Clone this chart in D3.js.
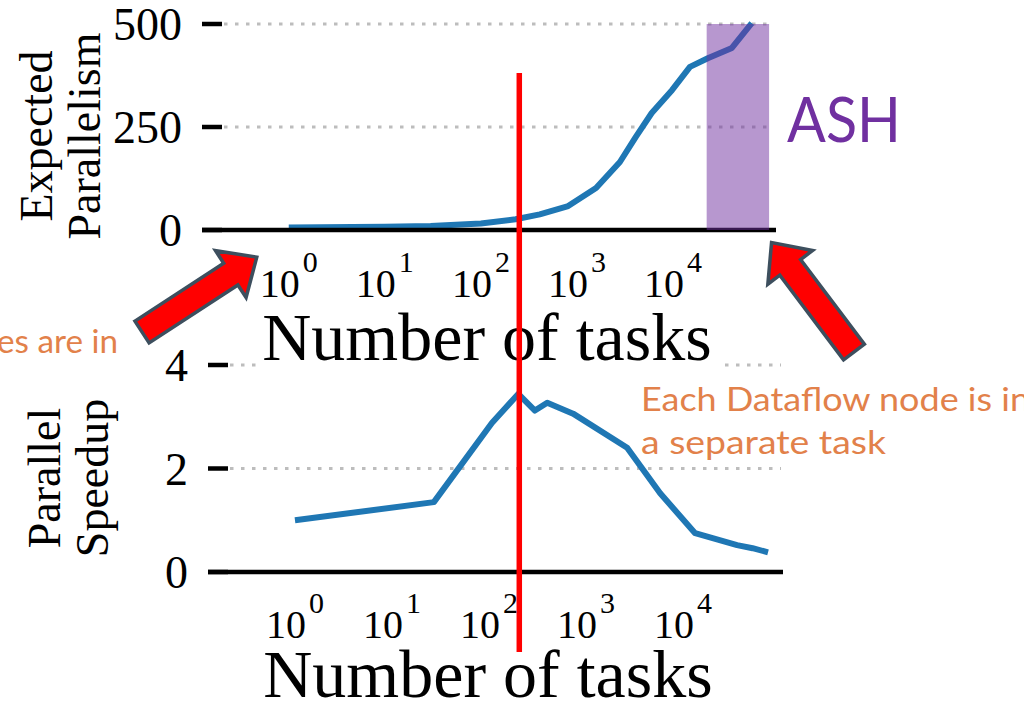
<!DOCTYPE html>
<html>
<head>
<meta charset="utf-8">
<script src="https://cdn.jsdelivr.net/npm/d3@7"></script>
<style>
  html, body { margin: 0; padding: 0; background: #fff; overflow: hidden; }
  svg { display: block; }
</style>
</head>
<body>
<svg id="chart" width="1024" height="712"></svg>
<script>
// ---- data ----
const tickExponents = [0, 1, 2, 3, 4];

// Expected parallelism vs number of tasks
const parTasks  = [1, 10, 30, 100, 230, 410, 810, 1580, 2800, 4100, 6000, 9800, 15000, 23000, 41000, 66000];
const parValues = [6, 8, 10, 16, 26, 38, 58, 102, 165, 226, 284, 340, 396, 417, 442, 502];
const parTicks  = [0, 250, 500];

// Parallel speedup vs number of tasks
const spdTasks  = [1, 27, 107, 200, 297, 398, 735, 2650, 5800, 13300, 36000, 52000, 75000];
const spdValues = [1.0, 1.35, 2.88, 3.44, 3.12, 3.27, 3.06, 2.40, 1.52, 0.75, 0.52, 0.46, 0.38];
const spdTicks  = [0, 2, 4];

// Highlighted ASH band and the chosen task-count cut
const ashRange = [22400, 100000];
const cutoffTasks = 205;

// ---- drawing ----
const svg = d3.select("#chart");
const serif = "'Liberation Serif', 'Times New Roman', serif";
const sans = "Lato, 'Noto Sans', sans-serif";
const lineBlue = "#1f77b4";

function drawPanel(root, cfg) {
  const g = root.append("g");
  const x = d3.scaleLog().domain(cfg.xDomain).range(cfg.xRange);
  const y = d3.scaleLinear().domain(cfg.yDomain).range(cfg.yRange);

  // dotted grid
  g.selectAll(".grid").data(cfg.yTicks.filter(d => d > 0)).join("line")
    .attr("x1", cfg.xRange[0]).attr("x2", cfg.xRange[1] - 2)
    .attr("y1", d => y(d)).attr("y2", d => y(d))
    .attr("stroke", "#bdbdbd").attr("stroke-width", 3)
    .attr("stroke-dasharray", "3.5,7.5");

  // data line
  const pts = cfg.xs.map((v, i) => [v, cfg.ys[i]]);
  g.append("path")
    .attr("d", d3.line().x(d => x(d[0])).y(d => y(d[1]))(pts))
    .attr("fill", "none").attr("stroke", lineBlue)
    .attr("stroke-width", 6).attr("stroke-linejoin", "round")
    .attr("stroke-linecap", "butt");

  // bottom spine
  g.append("line")
    .attr("x1", cfg.xRange[0]).attr("x2", cfg.xRange[1])
    .attr("y1", y(0)).attr("y2", y(0))
    .attr("stroke", "#000").attr("stroke-width", 4.5);

  // y ticks (inward) and labels
  g.selectAll(".ytick").data(cfg.yTicks).join("line")
    .attr("x1", cfg.xRange[0]).attr("x2", cfg.xRange[0] + 20)
    .attr("y1", d => y(d)).attr("y2", d => y(d))
    .attr("stroke", "#000").attr("stroke-width", 4.5);
  g.selectAll(".ylab").data(cfg.yTicks).join("text")
    .attr("x", cfg.xRange[0] - 20).attr("y", d => y(d) + 16)
    .attr("text-anchor", "end")
    .attr("font-family", serif).attr("font-size", 46)
    .text(d => d);

  // x tick labels 10^k
  const xl = g.selectAll(".xlab").data(tickExponents).join("text")
    .attr("x", d => x(Math.pow(10, d)))
    .attr("y", cfg.xLabelY)
    .attr("text-anchor", "middle")
    .attr("font-family", serif).attr("font-size", 40);
  xl.append("tspan").text("10");
  xl.append("tspan").attr("dy", -25).attr("dx", 3).attr("font-size", 30).text(d => d);

  // axis title
  g.append("text")
    .attr("x", cfg.titleX).attr("y", cfg.titleY)
    .attr("text-anchor", "middle")
    .attr("font-family", serif).attr("font-size", 68)
    .text("Number of tasks");

  // y axis title (two lines, rotated)
  const yt = g.append("text")
    .attr("transform", `translate(${cfg.yTitleX},${cfg.yTitleY}) rotate(-90)`)
    .attr("text-anchor", "middle")
    .attr("font-family", serif).attr("font-size", 46);
  yt.append("tspan").attr("x", 0).attr("y", 0).text(cfg.yTitle[0]);
  yt.append("tspan").attr("x", 0).attr("y", 48).text(cfg.yTitle[1]);

  return { x, y };
}

// lower panel: parallel speedup
const lowerPanel = drawPanel(svg, {
  xDomain: [0.127, 107000], xRange: [208, 783],
  yDomain: [0, 4], yRange: [572, 365],
  yTicks: spdTicks, xs: spdTasks, ys: spdValues,
  xLabelY: 638, titleX: 488, titleY: 697,
  yTitle: ["Parallel", "Speedup"], yTitleX: 60, yTitleY: 478
});

// white backing of the upper panel covers part of the lower grid
svg.append("rect").attr("x", 257).attr("y", 340).attr("width", 461).attr("height", 32)
  .attr("fill", "#fff");

// upper panel: expected parallelism
const upperPanel = drawPanel(svg, {
  xDomain: [0.125, 118000], xRange: [202, 776],
  yDomain: [0, 500], yRange: [230, 24],
  yTicks: parTicks, xs: parTasks, ys: parValues,
  xLabelY: 297, titleX: 487, titleY: 360,
  yTitle: ["Expected", "Parallelism"], yTitleX: 52, yTitleY: 136
});

// ASH band
svg.append("rect")
  .attr("x", upperPanel.x(ashRange[0])).attr("y", upperPanel.y(500))
  .attr("width", upperPanel.x(ashRange[1]) - upperPanel.x(ashRange[0]))
  .attr("height", upperPanel.y(0) - upperPanel.y(500))
  .attr("fill", "#7030a0").attr("fill-opacity", 0.5);

svg.append("text")
  .attr("x", 787).attr("y", 142)
  .attr("font-family", sans).attr("font-size", 61)
  .attr("fill", "#7030a0")
  .attr("textLength", 114).attr("lengthAdjust", "spacingAndGlyphs")
  .text("ASH");

// cut line
svg.append("line")
  .attr("x1", lowerPanel.x(cutoffTasks)).attr("x2", lowerPanel.x(cutoffTasks))
  .attr("y1", 73).attr("y2", 652)
  .attr("stroke", "#ff0000").attr("stroke-width", 5.5);

// block arrows
function blockArrow(tx, ty, angle) {
  const L = 137, hl = 31, sw = 13, hw = 28;
  const shape = [[0, -sw], [L - hl, -sw], [L - hl, -hw], [L, 0], [L - hl, hw], [L - hl, sw], [0, sw]];
  svg.append("path")
    .attr("d", "M" + shape.map(p => p.join(",")).join("L") + "Z")
    .attr("transform", `translate(${tx},${ty}) rotate(${angle})`)
    .attr("fill", "#ff0000").attr("stroke", "#3d4f5e")
    .attr("stroke-width", 3.5).attr("stroke-linejoin", "miter");
}
blockArrow(142, 332, -33.1);
blockArrow(854, 352, -127);

// notes
const orange = "#e2814a";
svg.append("text").attr("x", -3).attr("y", 353)
  .attr("font-family", sans).attr("font-size", 33).attr("fill", orange)
  .attr("textLength", 121).attr("lengthAdjust", "spacingAndGlyphs")
  .text("es are in");
svg.append("text").attr("x", 641).attr("y", 411)
  .attr("font-family", sans).attr("font-size", 33).attr("fill", orange)
  .attr("textLength", 389).attr("lengthAdjust", "spacingAndGlyphs")
  .text("Each Dataflow node is in");
svg.append("text").attr("x", 641).attr("y", 454)
  .attr("font-family", sans).attr("font-size", 33).attr("fill", orange)
  .attr("textLength", 245).attr("lengthAdjust", "spacingAndGlyphs")
  .text("a separate task");
</script>
</body>
</html>
